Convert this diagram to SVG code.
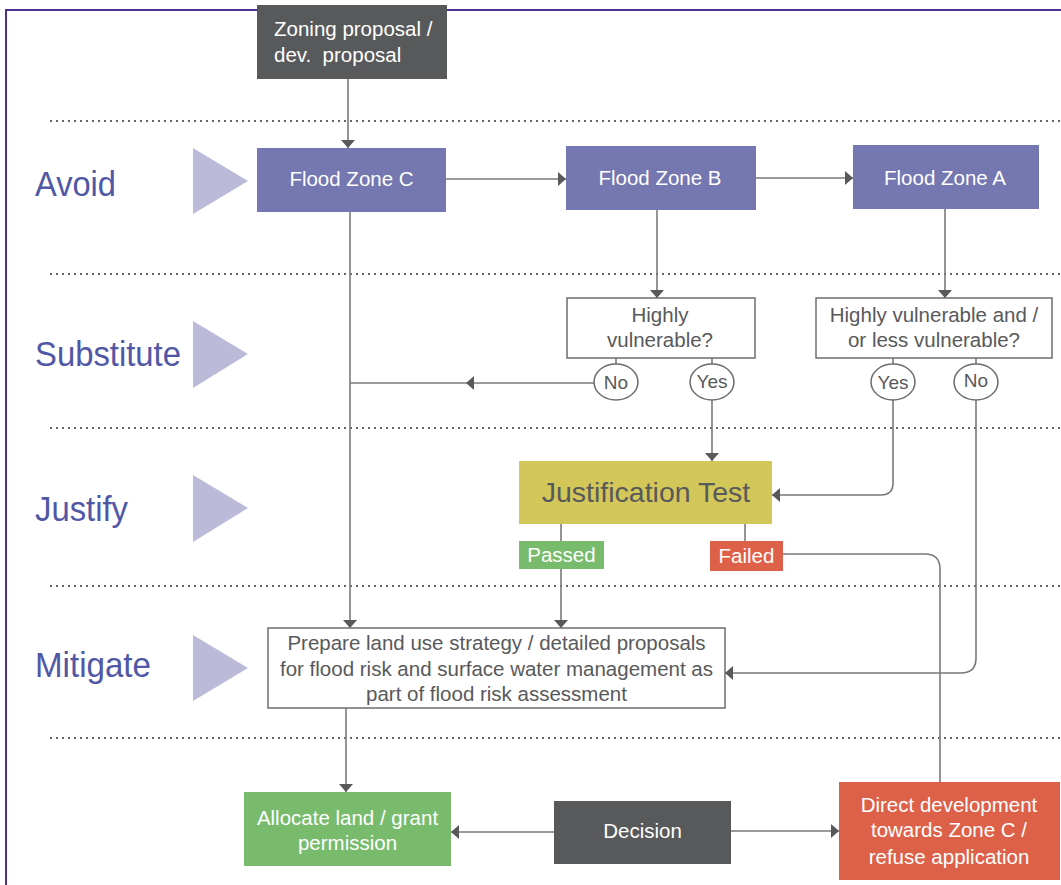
<svg xmlns="http://www.w3.org/2000/svg" width="1061" height="885" viewBox="0 0 1061 885">
<defs>
<marker id="ah" viewBox="0 0 8 14" refX="8" refY="7" markerWidth="8" markerHeight="14" markerUnits="userSpaceOnUse" orient="auto">
<path d="M0,0 L8,7 L0,14 z" fill="#58595b"/>
</marker>
<style>
.lbl{font-family:"Liberation Sans",Arial,sans-serif;font-size:35px;fill:#4f57a6}
.tri{fill:#bbbbd9}
.dot{stroke:#666;stroke-width:2;stroke-dasharray:2 4;fill:none}
.t{font-family:"Liberation Sans",Arial,sans-serif;font-size:20.5px;text-anchor:middle}
.w{fill:#ffffff}
.g{fill:#58595b}
.c{fill:none;stroke:#7a7a7a;stroke-width:1.6}
.ca{fill:none;stroke:#7a7a7a;stroke-width:1.6;marker-end:url(#ah)}
.box{fill:#ffffff;stroke:#6d6d6d;stroke-width:1.5}
.ell{fill:#ffffff;stroke:#6d6d6d;stroke-width:1.5}
</style>
</defs>
<rect width="1061" height="885" fill="#ffffff"/>
<rect x="6" y="10" width="1200" height="1000" fill="none" stroke="#4f2f8f" stroke-width="2"/>

<g id="lanes">
<line class="dot" x1="50" y1="121" x2="1061" y2="121"/>
<line class="dot" x1="50" y1="274" x2="1061" y2="274"/>
<line class="dot" x1="50" y1="428" x2="1061" y2="428"/>
<line class="dot" x1="50" y1="586" x2="1061" y2="586"/>
<line class="dot" x1="50" y1="738" x2="1061" y2="738"/>
<text class="lbl" x="35" y="196" textLength="81" lengthAdjust="spacingAndGlyphs">Avoid</text>
<polygon class="tri" points="193,148 248,181 193,214"/>
<text class="lbl" x="35" y="366" textLength="146" lengthAdjust="spacingAndGlyphs">Substitute</text>
<polygon class="tri" points="193,321 248,354 193,388"/>
<text class="lbl" x="35" y="521" textLength="93" lengthAdjust="spacingAndGlyphs">Justify</text>
<polygon class="tri" points="193,475 248,508 193,542"/>
<text class="lbl" x="35" y="677" textLength="116" lengthAdjust="spacingAndGlyphs">Mitigate</text>
<polygon class="tri" points="193,635 248,668 193,701"/>
</g>

<g id="connectors">
<path class="ca" d="M348,79 V148"/>
<path class="ca" d="M446,179 H566"/>
<path class="ca" d="M756,178 H853"/>
<path class="ca" d="M657,210 V298"/>
<path class="ca" d="M945,209 V298"/>
<path class="ca" d="M350,212 V628"/>
<path class="c" d="M616,358 V364 M712,358 V364 M893,358 V364 M976,358 V364"/>
<path class="ca" d="M594,383 H466"/>
<path class="c" d="M466,383 H350"/>
<path class="ca" d="M712,400 V461"/>
<path class="ca" d="M893,400 V483 Q893,495 881,495 H772"/>
<path class="ca" d="M976,400 V658 Q976,673 961,673 H725"/>
<path class="c" d="M561,524 V541"/>
<path class="ca" d="M561,569 V628"/>
<path class="c" d="M745,524 V541"/>
<path class="c" d="M783,554 H925 Q940,554 940,569 V782"/>
<path class="ca" d="M346,708 V792"/>
<path class="ca" d="M554,832 H451"/>
<path class="ca" d="M731,831 H839"/>
</g>

<g id="zoning">
<rect x="257" y="5" width="190" height="74" fill="#58595b"/>
<text class="t w" x="274" y="36" style="text-anchor:start">Zoning proposal /</text>
<text class="t w" x="274" y="62" style="text-anchor:start" xml:space="preserve">dev.  proposal</text>
</g>
<g id="zoneC">
<rect x="257" y="148" width="189" height="64" fill="#7577b0"/>
<text class="t w" x="351.5" y="186">Flood Zone C</text>
</g>
<g id="zoneB">
<rect x="566" y="146" width="190" height="64" fill="#7577b0"/>
<text class="t w" x="660" y="185">Flood Zone B</text>
</g>
<g id="zoneA">
<rect x="853" y="145" width="186" height="64" fill="#7577b0"/>
<text class="t w" x="945" y="185">Flood Zone A</text>
</g>
<g id="hv">
<rect class="box" x="567" y="298" width="188" height="60"/>
<text class="t g" x="660" y="322">Highly</text>
<text class="t g" x="660" y="347">vulnerable?</text>
</g>
<g id="hvl">
<rect class="box" x="816" y="298" width="236" height="60"/>
<text class="t g" x="934" y="322">Highly vulnerable and /</text>
<text class="t g" x="934" y="347">or less vulnerable?</text>
</g>
<g id="no1">
<ellipse class="ell" cx="616" cy="382" rx="22" ry="18"/>
<text class="t g" x="616" y="389" style="font-size:19px">No</text>
</g>
<g id="yes1">
<ellipse class="ell" cx="712" cy="382" rx="22" ry="18"/>
<text class="t g" x="712" y="388" style="font-size:19px">Yes</text>
</g>
<g id="yes2">
<ellipse class="ell" cx="893" cy="382" rx="22" ry="18"/>
<text class="t g" x="893" y="389" style="font-size:19px">Yes</text>
</g>
<g id="no2">
<ellipse class="ell" cx="976" cy="382" rx="22" ry="18"/>
<text class="t g" x="976" y="387" style="font-size:19px">No</text>
</g>
<g id="justification">
<rect x="519" y="461" width="253" height="63" fill="#d3c75a"/>
<text class="t g" x="646" y="502" style="font-size:28.5px">Justification Test</text>
</g>
<g id="passed">
<rect x="519" y="541" width="85" height="28" fill="#78bb6d"/>
<text class="t w" x="561.5" y="562">Passed</text>
</g>
<g id="failed">
<rect x="710" y="541" width="73" height="30" fill="#dd6149"/>
<text class="t w" x="746.5" y="563">Failed</text>
</g>
<g id="mitigate">
<rect class="box" x="268" y="628" width="457" height="80"/>
<text class="t g" x="496.5" y="650">Prepare land use strategy / detailed proposals</text>
<text class="t g" x="496.5" y="676">for flood risk and surface water management as</text>
<text class="t g" x="496.5" y="701">part of flood risk assessment</text>
</g>
<g id="allocate">
<rect x="244" y="792" width="207" height="74" fill="#78bb6d"/>
<text class="t w" x="347.5" y="825">Allocate land / grant</text>
<text class="t w" x="347.5" y="850">permission</text>
</g>
<g id="decision">
<rect x="554" y="801" width="177" height="63" fill="#58595b"/>
<text class="t w" x="642.5" y="838">Decision</text>
</g>
<g id="direct">
<rect x="839" y="782" width="221" height="98" fill="#dd6149"/>
<text class="t w" x="949" y="812">Direct development</text>
<text class="t w" x="949" y="837">towards Zone C /</text>
<text class="t w" x="949" y="864">refuse application</text>
</g>
</svg>
